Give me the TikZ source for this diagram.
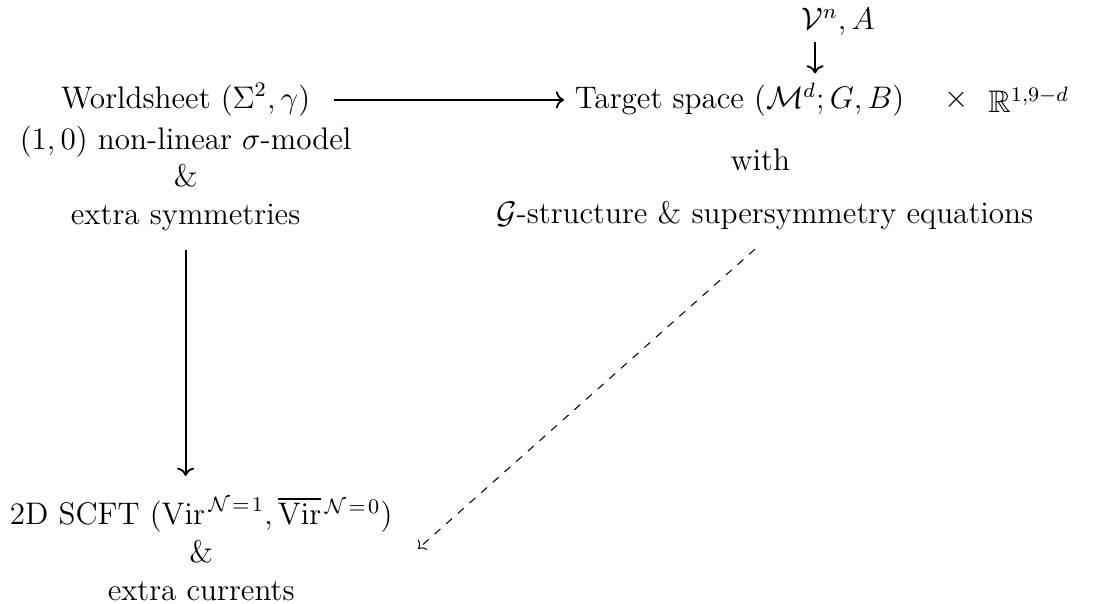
\documentclass[tikz,border=0pt,12pt]{standalone}
\usepackage{amsmath,amssymb}
\usepackage{tikz}
\usetikzlibrary{arrows.meta,positioning,calc}

\begin{document}
\begin{tikzpicture}[
    txt/.style={align=center},
    arr/.style={->, line width=0.7pt}
  ]
    \useasboundingbox (0,0) rectangle (14.90,-8.166);

    \node[txt] (ws) at (2.51,-1.35) {Worldsheet $(\Sigma^2,\gamma)$};
    \node[txt] (wsx) at (2.51,-2.41) {$(1,0)$ non-linear $\sigma$-model\\ \&\\ extra symmetries};

    \node[txt] (ts) at (10.00,-1.35) {Target space $(\mathcal{M}^d;G,B)$};
    \node[txt, right=0.25cm of ts] (tm) {$\times$};
    \node[txt, right=-0.03cm of tm] (rr) {$\mathbb{R}^{1,9-d}$};
    \node[txt] (vn) at (11.33,-0.30) {$\mathcal{V}^n, A$};
    \coordinate (vm) at (11.02,-0.57);

    \node[txt] (wi) at (10.28,-2.16) {with};
    \node[txt] (gs) at (10.34,-2.91) {$\mathcal{G}$-structure \& supersymmetry equations};

    \node[txt] (sc) at (2.72,-7.42) {2D SCFT $(\mathrm{Vir}^{\,\mathcal{N}\mkern2mu=\mkern2mu1},\overline{\mathrm{Vir}}{}^{\,\mathcal{N}\mkern2mu=\mkern2mu0})$\\ \&\\ extra currents};

    \draw[arr, shorten <=5pt] (ws) -- (ts);
    \draw[arr, shorten >=-0.5pt] (vm) -- (vm |- ts.north);
    \draw[arr, shorten <=3pt, shorten >=4pt] (wsx.south) -- (wsx.south |- sc.north);
    \draw[->, dashed, thin, shorten <=5pt] (gs.south) -- ([xshift=0.2cm]sc.east);
\end{tikzpicture}
\end{document}
